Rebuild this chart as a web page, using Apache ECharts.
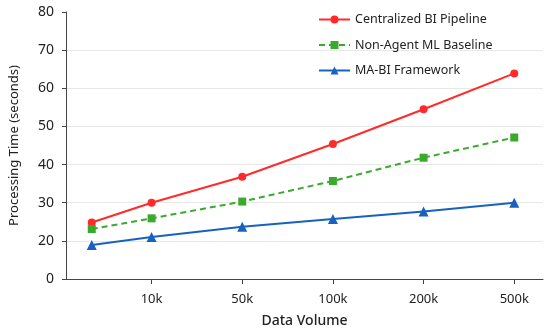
<!DOCTYPE html>
<html>
<head>
<meta charset="utf-8">
<script src="https://cdn.jsdelivr.net/npm/echarts@6/dist/echarts.min.js"></script>
<style>html,body{margin:0;padding:0;background:#fff}#c{width:550px;height:333px}</style>
</head>
<body>
<div id="c"></div>
<script>
const xLabels = ['10k', '50k', '100k', '200k', '500k'];
const xTickPositions = [1, 2, 3, 4, 5];
const xPositions = [0.34, 1, 2, 3, 4, 5];
const centralized = [24.8, 30.0, 36.8, 45.4, 54.5, 63.9];
const nonAgent = [23.1, 25.9, 30.3, 35.7, 41.8, 47.1];
const maBi = [18.9, 21.0, 23.7, 25.7, 27.7, 30.0];
const yTickLabels = {10: '0', 20: '20', 30: '30', 40: '40', 50: '50', 60: '60', 70: '70', 80: '80'};

const pair = arr => arr.map((v, i) => [xPositions[i], v]);
const font = 'Noto Sans';
const chart = echarts.init(document.getElementById('c'), null, {renderer: 'canvas'});
chart.setOption({
  animation: false,
  backgroundColor: '#fff',
  textStyle: {fontFamily: font},
  grid: {left: 62, right: 7, top: 12, bottom: 54, containLabel: false},
  legend: {
    orient: 'vertical', left: 312, top: 9, itemGap: 12.5,
    itemWidth: 31, itemHeight: 10,
    padding: [4, 6, 4, 6],
    textStyle: {fontSize: 12.5, color: '#222', fontFamily: font}
  },
  xAxis: {
    type: 'value', min: 0.056, max: 5.317,
    name: 'Data Volume', nameLocation: 'middle', nameGap: 35,
    nameTextStyle: {fontSize: 14, fontWeight: 500, color: '#222', fontFamily: font},
    axisLine: {show: true, lineStyle: {color: '#444', width: 1}},
    axisTick: {show: true, customValues: xTickPositions, length: 5, lineStyle: {color: '#444'}},
    axisLabel: {customValues: xTickPositions, margin: 14, fontSize: 13, color: '#222',
      formatter: v => xLabels[Math.round(v) - 1] || ''},
    splitLine: {show: false}
  },
  yAxis: {
    type: 'value', min: 10, max: 80, interval: 10,
    name: 'Processing Time (seconds)', nameLocation: 'middle', nameGap: 45,
    nameTextStyle: {fontSize: 13, color: '#222', fontFamily: font},
    axisLine: {show: true, lineStyle: {color: '#444', width: 1}},
    axisTick: {show: true, length: 4, lineStyle: {color: '#444'}},
    axisLabel: {margin: 12, fontSize: 14, color: '#222', formatter: v => yTickLabels[v] || ''},
    splitLine: {show: true, showMinLine: false, showMaxLine: false, lineStyle: {color: '#e8e8e8', width: 1}}
  },
  series: [
    {name: 'Centralized BI Pipeline', type: 'line', data: pair(centralized),
      symbol: 'circle', symbolSize: 8, color: '#ff2b2b',
      lineStyle: {width: 2, color: '#ff2b2b'}, itemStyle: {color: '#ff2b2b'}},
    {name: 'Non-Agent ML Baseline', type: 'line', data: pair(nonAgent),
      symbol: 'rect', symbolSize: 8, color: '#3aaa2e',
      lineStyle: {width: 2, type: [6, 4], color: '#3aaa2e'}, itemStyle: {color: '#3aaa2e'}},
    {name: 'MA-BI Framework', type: 'line', data: pair(maBi),
      symbol: 'triangle', symbolSize: 10, color: '#1862bf',
      lineStyle: {width: 2, color: '#1862bf'}, itemStyle: {color: '#1862bf'}}
  ]
});
</script>
</body>
</html>
